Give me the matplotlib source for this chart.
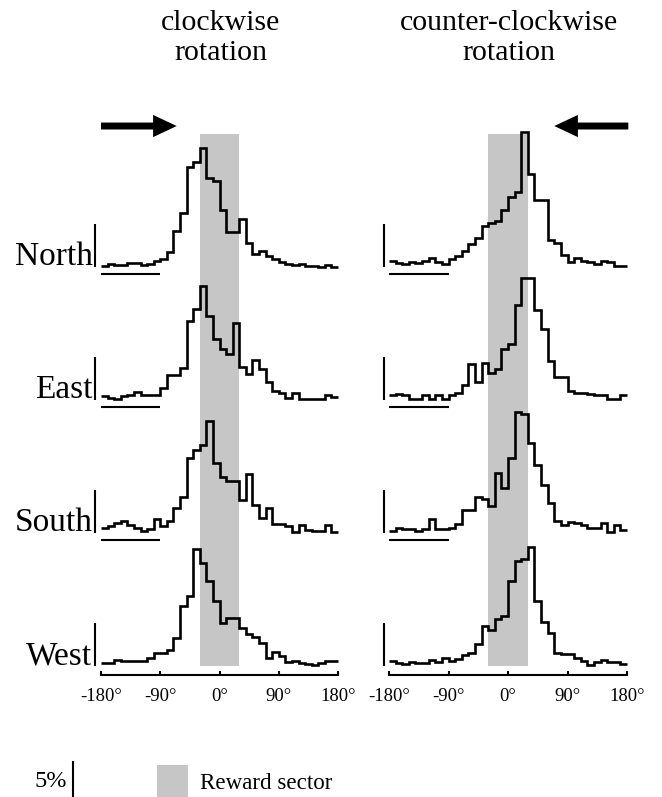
import numpy as np
import matplotlib.pyplot as plt
from matplotlib.patches import Patch
from matplotlib.lines import Line2D

plt.rcParams['font.family'] = ['Liberation Serif', 'DejaVu Serif']

directions = ['North', 'East', 'South', 'West']
bin_edges = np.arange(-180, 181, 10)
reward_sector = (-30, 30)
tick_angles = [-180, -90, 0, 90, 180]
cw_ticklabels = ['-180°', '-90°', '0°', '90°', '180°']
ccw_ticklabels = ['180°', '90°', '0°', '-90°', '-180°']

# % of time per 10 deg bin, clockwise panels: -180 -> 180
cw_north = [0.15, 0.35, 0.2, 0.2, 0.5, 0.45, 0.25, 0.35, 0.65, 0.95, 1.7, 4.1,
            6.2, 11.5, 12.1, 13.7, 10.3, 9.9, 6.6, 4.0, 4.0, 5.5, 2.8, 1.55,
            1.9, 1.25, 0.95, 0.6, 0.35, 0.25, 0.3, 0.15, 0.1, 0.05, 0.2, 0.05]
cw_east = [0.45, 0.27, 0.11, 0.49, 0.57, 0.95, 0.57, 0.57, 0.57, 1.44, 2.84, 2.84,
           3.71, 9.09, 10.5, 13.2, 9.66, 7.0, 5.87, 5.3, 8.9, 3.79, 3.03, 4.66,
           3.6, 2.08, 1.02, 0.76, 0.19, 0.76, 0.08, 0.08, 0.08, 0.08, 0.57, 0.38]
cw_south = [0.53, 0.79, 1.17, 1.35, 0.9, 0.6, 0.23, 0.41, 1.65, 0.79, 1.35, 2.86,
            4.1, 8.68, 9.62, 10.2, 12.9, 8.12, 6.43, 6.05, 6.05, 3.8, 6.8, 3.23,
            1.73, 2.86, 1.05, 1.05, 0.79, 0.11, 0.98, 0.3, 0.23, 0.23, 0.98, 0.11]
cw_west = [0.34, 0.34, 0.72, 0.61, 0.53, 0.53, 0.61, 0.91, 1.48, 1.48, 1.86, 3.18,
           6.89, 8.1, 13.5, 11.9, 9.8, 7.54, 4.96, 5.53, 5.53, 4.39, 3.64, 3.37,
           2.61, 0.98, 1.67, 1.1, 0.42, 0.53, 0.34, 0.23, 0.08, 0.34, 0.53, 0.53]

# counter-clockwise panels, read in page order: 180 -> -180
ccw_north = [0.7, 0.41, 0.33, 0.52, 0.41, 0.7, 1.0, 0.52, 0.33, 0.89, 1.26, 1.89,
             2.63, 3.3, 4.7, 5.04, 5.33, 6.63, 8.11, 8.67, 15.6, 10.7, 7.74, 7.74,
             3.11, 2.74, 1.44, 0.52, 1.07, 0.7, 0.52, 0.33, 0.7, 0.52, 0.15, 0.15]
ccw_east = [0.54, 0.73, 0.54, 0.15, 0.15, 0.54, 0.15, 0.54, 0.15, 0.62, 0.81, 1.69,
            4.12, 2.08, 4.31, 3.12, 3.62, 5.92, 6.42, 11.0, 14.1, 14.1, 10.4, 8.23,
            4.5, 2.65, 2.65, 1.0, 0.81, 0.81, 0.65, 0.54, 0.54, 0.15, 0.15, 0.54]
ccw_south = [0.26, 0.63, 0.45, 0.45, 0.19, 0.45, 1.57, 0.45, 0.45, 0.63, 1.0, 2.69,
             2.69, 4.1, 3.92, 3.17, 6.9, 5.22, 8.66, 14.0, 13.7, 10.4, 7.84, 5.49,
             3.43, 1.42, 0.93, 1.31, 1.12, 0.93, 0.56, 0.56, 1.12, 0.07, 0.93, 0.37]
ccw_west = [0.52, 0.3, 0.22, 0.41, 0.3, 0.3, 0.67, 0.41, 0.97, 0.6, 0.86, 1.23,
            1.53, 2.54, 4.63, 4.14, 5.37, 5.75, 9.85, 12.1, 12.3, 13.7, 7.5, 5.07,
            3.77, 1.53, 1.34, 1.34, 0.97, 0.6, 0.15, 0.41, 0.67, 0.49, 0.41, 0.22]

cw_data = [cw_north, cw_east, cw_south, cw_west]
ccw_data = [ccw_north, ccw_east, ccw_south, ccw_west]

# layout in pixels
W, H = 662, 797
PX_PER_PCT = 8.67
BASELINES = [267, 400, 533, 666]
SECTOR_GRAY = '#c6c6c6'


def rect(x0, x1, ytop, ybot):
    return [x0 / W, 1 - ybot / H, (x1 - x0) / W, (ybot - ytop) / H]


fig = plt.figure(figsize=(W / 100, H / 100), dpi=100)

columns = [
    dict(px=(101, 338), xlim=(-180, 180), data=cw_data, ccw=False,
         ticklabels=cw_ticklabels, title=('clockwise', 'rotation'),
         bar_x=-189, under=(-180, -90), arrow=(-180, -65), label_x=-193),
    dict(px=(389, 627), xlim=(180, -180), data=ccw_data, ccw=True,
         ticklabels=ccw_ticklabels, title=('counter-clockwise', 'rotation'),
         bar_x=187.5, under=(180, 90), arrow=(-182, -70), label_x=None),
]

for col in columns:
    x0, x1 = col['px']

    # reward sector + rotation arrow behind the histograms
    bg = fig.add_axes(rect(x0, x1, 134, BASELINES[-1]))
    bg.set_xlim(col['xlim'])
    bg.set_ylim(0, 1)
    bg.axis('off')
    bg.axvspan(*reward_sector, color=SECTOR_GRAY, lw=0)
    bg.annotate('', xy=(col['arrow'][1], 1.015), xytext=(col['arrow'][0], 1.015),
                xycoords=('data', 'axes fraction'), textcoords=('data', 'axes fraction'),
                arrowprops=dict(arrowstyle='simple,head_length=17,head_width=16,tail_width=5',
                                mutation_scale=1, fc='k', ec='none', lw=0,
                                shrinkA=0, shrinkB=0), annotation_clip=False)

    cx = (x0 + x1) / 2 + 1
    fig.text(cx / W, 1 - 30 / H, col['title'][0], ha='center', va='baseline', fontsize=21.5)
    fig.text(cx / W, 1 - 60 / H, col['title'][1], ha='center', va='baseline', fontsize=21.5)

    for r, (name, vals) in enumerate(zip(directions, col['data'])):
        base = BASELINES[r]
        ax = fig.add_axes(rect(x0, x1, base - 120, base + 14))
        ax.set_facecolor('none')
        ax.set_xlim(col['xlim'])
        ax.set_ylim(-14 / PX_PER_PCT, 120 / PX_PER_PCT)
        vals = np.array(vals)
        if col['ccw']:
            vals = vals[::-1]
        st = ax.stairs(vals, bin_edges, baseline=None, color='k', lw=1.9, clip_on=False)
        st.set_joinstyle('miter')

        # 5 % scale bar
        ax.plot([col['bar_x']] * 2, [0, 5], color='k', lw=1.5, clip_on=False,
                solid_capstyle='butt')
        if col['label_x'] is not None:
            ax.text(col['label_x'], 0.2, name, ha='right', va='baseline', fontsize=24)

        for s in ['top', 'left', 'right']:
            ax.spines[s].set_visible(False)
        ax.set_yticks([])
        if r < 3:
            ax.spines['bottom'].set_visible(False)
            ax.set_xticks([])
            ax.plot(col['under'], [-0.85, -0.85], color='k', lw=1.5,
                    solid_capstyle='butt', clip_on=False)
        else:
            ax.spines['bottom'].set_position(('data', -1.04))
            ax.spines['bottom'].set_linewidth(1.5)
            ax.set_xticks(tick_angles)
            ax.set_xticklabels(col['ticklabels'], fontsize=13.5)
            ax.tick_params(axis='x', direction='in', length=3, width=1.5, pad=9)

# bottom key
fig.text(67 / W, 1 - 787 / H, '5%', ha='right', va='baseline', fontsize=17.5)
fig.add_artist(Line2D([73 / W, 73 / W], [1 - 762 / H, 0], transform=fig.transFigure,
                      color='k', lw=1.5))
fig.legend(handles=[Patch(facecolor=SECTOR_GRAY, edgecolor='none', label='Reward sector')],
           loc='lower left', bbox_to_anchor=(157 / W, 0), frameon=False, borderpad=0,
           borderaxespad=0, handlelength=1.35, handleheight=1.74, handletextpad=0.5,
           fontsize=16.6)

fig.savefig('out.png', dpi=100)
